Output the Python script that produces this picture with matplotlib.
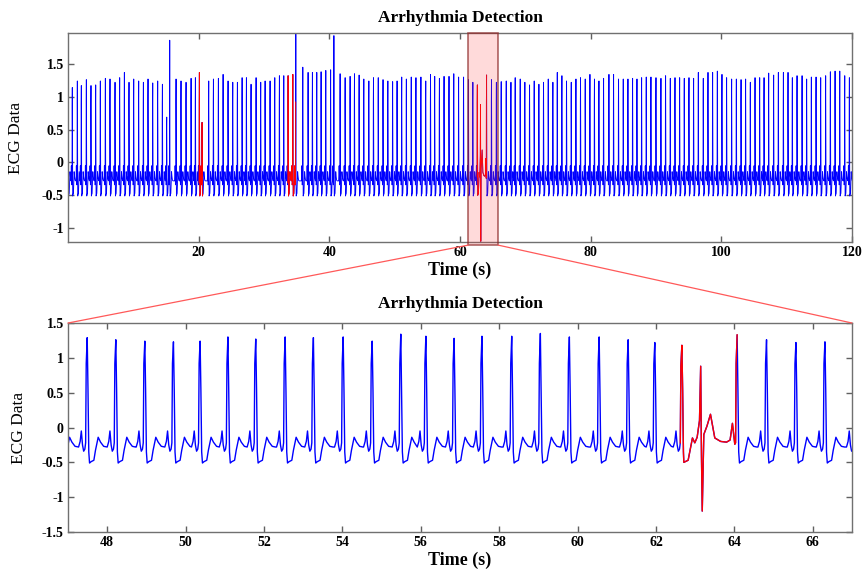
import numpy as np
import matplotlib.pyplot as plt
from matplotlib.patches import Rectangle, ConnectionPatch

plt.rcParams['font.family'] = ['Liberation Serif', 'DejaVu Serif']

# R-peak times (s) and amplitudes
beat_t = [0.02, 0.66, 1.43, 2.04, 2.81, 3.52, 4.24, 4.95, 5.72, 6.43,
          7.20, 7.91, 8.63, 9.34, 10.06, 10.82, 11.54, 12.25, 12.97, 13.73,
          14.45, 15.11, 15.57, 16.54, 17.30, 18.07, 18.84, 19.50, 20.11, 20.52,
          21.54, 22.26, 23.02, 23.74, 24.50, 25.22, 25.93, 26.65, 27.31, 28.02,
          28.79, 29.50, 30.17, 30.93, 31.65, 32.36, 33.03, 33.69, 34.41, 34.87,
          35.94, 36.75, 37.41, 38.08, 38.74, 39.46, 40.20, 40.70,
          41.65, 42.42, 43.18, 43.85, 44.56, 45.28, 46.05, 46.76,
          47.49, 48.22, 48.96, 49.69, 50.37, 51.08, 51.79, 52.54, 53.26, 54.02,
          54.76, 55.49, 56.13, 56.85, 57.56, 58.32, 59.05, 59.79, 60.55, 61.29,
          61.97, 62.66, 64.07, 64.82, 65.57, 66.31, 67.08,
          67.80, 68.45, 69.22, 69.93, 70.65, 71.36, 72.08, 72.79, 73.51, 74.22,
          74.89, 75.60, 76.31, 77.03, 77.75, 78.45, 79.17, 79.89,
          80.58, 81.27, 81.98, 82.80, 83.51, 84.27, 84.99, 85.71, 86.42, 87.09,
          87.80, 88.51, 89.23, 90.00, 90.76, 91.47, 92.19, 92.91, 93.62, 94.33,
          95.05, 95.76, 96.48, 97.24, 97.96, 98.67, 99.39,
          100.10, 100.81, 101.58, 102.30, 103.02, 103.72, 104.44, 105.16, 105.87, 106.54,
          107.25, 108.01, 108.73, 109.50, 110.21, 110.87, 111.59, 112.36, 113.06, 113.78,
          114.50, 115.21, 115.97, 116.69, 117.41, 118.13, 118.89, 119.60]
beat_amp = [1.22, 1.14, 1.24, 1.17, 1.26, 1.17, 1.18, 1.24, 1.28, 1.27,
            1.22, 1.29, 1.37, 1.22, 1.27, 1.24, 1.22, 1.27, 1.21, 1.24,
            1.19, 0.69, 1.86, 1.27, 1.24, 1.22, 1.28, 1.29, 1.37, 0.61,
            1.24, 1.27, 1.28, 1.34, 1.24, 1.22, 1.22, 1.29, 1.29, 1.19,
            1.29, 1.22, 1.24, 1.24, 1.29, 1.32, 1.32, 1.32, 1.34, 2.00,
            1.45, 1.37, 1.37, 1.37, 1.38, 1.40, 1.41, 1.93,
            1.35, 1.29, 1.31, 1.35, 1.33, 1.27, 1.24, 1.29,
            1.29, 1.26, 1.24, 1.23, 1.24, 1.30, 1.27, 1.30, 1.29, 1.30,
            1.24, 1.34, 1.31, 1.28, 1.31, 1.31, 1.35, 1.30, 1.30, 1.26,
            1.22, 1.18, 1.33, 1.26, 1.22, 1.23, 1.24,
            1.22, 1.29, 1.27, 1.22, 1.18, 1.24, 1.19, 1.22, 1.27, 1.22,
            1.37, 1.32, 1.24, 1.22, 1.27, 1.29, 1.27, 1.34,
            1.27, 1.24, 1.28, 1.34, 1.34, 1.27, 1.27, 1.27, 1.28, 1.27,
            1.29, 1.30, 1.30, 1.29, 1.28, 1.32, 1.28, 1.29, 1.29, 1.28,
            1.29, 1.28, 1.37, 1.28, 1.37, 1.37, 1.39,
            1.34, 1.29, 1.27, 1.27, 1.26, 1.27, 1.22, 1.29, 1.29, 1.29,
            1.36, 1.33, 1.37, 1.37, 1.37, 1.29, 1.32, 1.32, 1.27, 1.30,
            1.30, 1.29, 1.32, 1.38, 1.39, 1.39, 1.32, 1.29]

# one normal beat (offset from R peak, value)
shape_off = [-0.22, -0.18, -0.15, -0.12, -0.09, -0.06, -0.04, -0.025, 0.0,
             0.02, 0.04, 0.06, 0.10, 0.17, 0.21, 0.28, 0.34, 0.42, 0.50]
shape_val = [-0.28, -0.20, -0.05, -0.25, -0.34, -0.31, -0.22, 0.92, 1.0,
             0.55, -0.35, -0.51, -0.49, -0.47, -0.33, -0.14, -0.21, -0.27, -0.28]

# the abnormal beat near 63 s
ect_t = [62.71, 62.82, 62.93, 62.99, 63.05, 63.11, 63.14, 63.16, 63.18, 63.22,
         63.30, 63.39, 63.50, 63.65, 63.80, 63.89, 63.95, 64.01]
ect_v = [-0.50, -0.47, -0.15, -0.22, -0.14, 0.10, 0.88, -0.40, -1.20, -0.10,
         0.02, 0.19, -0.15, -0.20, -0.21, -0.18, 0.06, -0.24]

# detected arrhythmia spans (s)
red_start = [20.05, 33.62, 62.62]
red_end = [20.62, 34.86, 64.07]

ts, vs = [], []
for i, (tb, a) in enumerate(zip(beat_t, beat_amp)):
    nxt = beat_t[i + 1] + shape_off[0] if i + 1 < len(beat_t) else 1e9
    for k, (off, val) in enumerate(zip(shape_off, shape_val)):
        if off > 0 and tb + off >= nxt:
            continue
        if off == 0:
            val = a
        elif k == 7:
            val = min(val, 0.75 * a)
        elif k == 9:
            val = min(val, 0.45 * a)
        ts.append(tb + off)
        vs.append(val)
ts = np.array(ts)
vs = np.array(vs)
keep = (ts < ect_t[0]) | (ts > ect_t[-1])
ts = np.concatenate([ts[keep], ect_t])
vs = np.concatenate([vs[keep], ect_v])
order = np.argsort(ts)
ts, vs = ts[order], vs[order]

red = np.zeros(len(ts), bool)
for s, e in zip(red_start, red_end):
    red |= (ts >= s) & (ts <= e)
vs_red = np.ma.masked_where(~red, vs)

fig = plt.figure(figsize=(8.64, 5.71), dpi=100)
ax1 = fig.add_axes([0.0787, 0.5762, 0.9074, 0.366])
ax2 = fig.add_axes([0.0787, 0.0683, 0.9074, 0.366])

for ax, lw, tpad in [(ax1, 0.65, 8), (ax2, 1.0, 11)]:
    ax.plot(ts, vs, color='#0000ff', lw=lw)
    ax.plot(ts, vs_red, color='#ff0000', lw=lw)
    ax.set_title('Arrhythmia Detection', fontsize=12.5, fontweight='bold', pad=tpad)
    ax.set_xlabel('Time (s)', fontsize=13, fontweight='bold', labelpad=2)
    ax.set_ylabel('ECG Data', fontsize=12.5)
    ax.tick_params(direction='in', top=True, right=True, length=4, width=1,
                   color='#606060', labelsize=10, pad=3)
    for sp in ax.spines.values():
        sp.set_color('#707070')
        sp.set_linewidth(1.0)

ax1.set_xlim(0, 120)
ax1.set_ylim(-1.21, 1.97)
ax1.set_xticks([20, 40, 60, 80, 100, 120])
ax1.set_xticklabels(['20', '40', '60', '80', '100', '120'], fontweight='bold')
ax1.set_yticks([-1, -0.5, 0, 0.5, 1, 1.5])
ax1.set_yticklabels(['-1', '-0.5', '0', '0.5', '1', '1.5'], fontweight='bold')

ax2.set_xlim(47, 67)
ax2.set_ylim(-1.5, 1.5)
ax2.set_xticks([48, 50, 52, 54, 56, 58, 60, 62, 64, 66])
ax2.set_xticklabels(['48', '50', '52', '54', '56', '58', '60', '62', '64', '66'], fontweight='bold')
ax2.set_yticks([-1.5, -1, -0.5, 0, 0.5, 1, 1.5])
ax2.set_yticklabels(['-1.5', '-1', '-0.5', '0', '0.5', '1', '1.5'], fontweight='bold')
ax1.yaxis.set_label_coords(-0.056, 0.5)
ax2.yaxis.set_label_coords(-0.052, 0.5)

# zoom box and its connector lines
box_x0, box_x1 = 61.25, 65.85
rect = Rectangle((box_x0, -0.015), box_x1 - box_x0, 1.015,
                 transform=ax1.get_xaxis_transform(), clip_on=False,
                 facecolor=(1, 0.2, 0.2, 0.18), edgecolor=(0.55, 0.15, 0.15, 0.7),
                 lw=1.2, zorder=5)
ax1.add_patch(rect)
for xa, xb in [(box_x0, 0.0), (box_x1, 1.0)]:
    con = ConnectionPatch(xyA=(xa, -0.015), coordsA=ax1.get_xaxis_transform(),
                          xyB=(xb, 1.0), coordsB=ax2.transAxes,
                          color=(1, 0.35, 0.35), lw=0.9)
    fig.add_artist(con)

fig.savefig('out.png', dpi=100)
